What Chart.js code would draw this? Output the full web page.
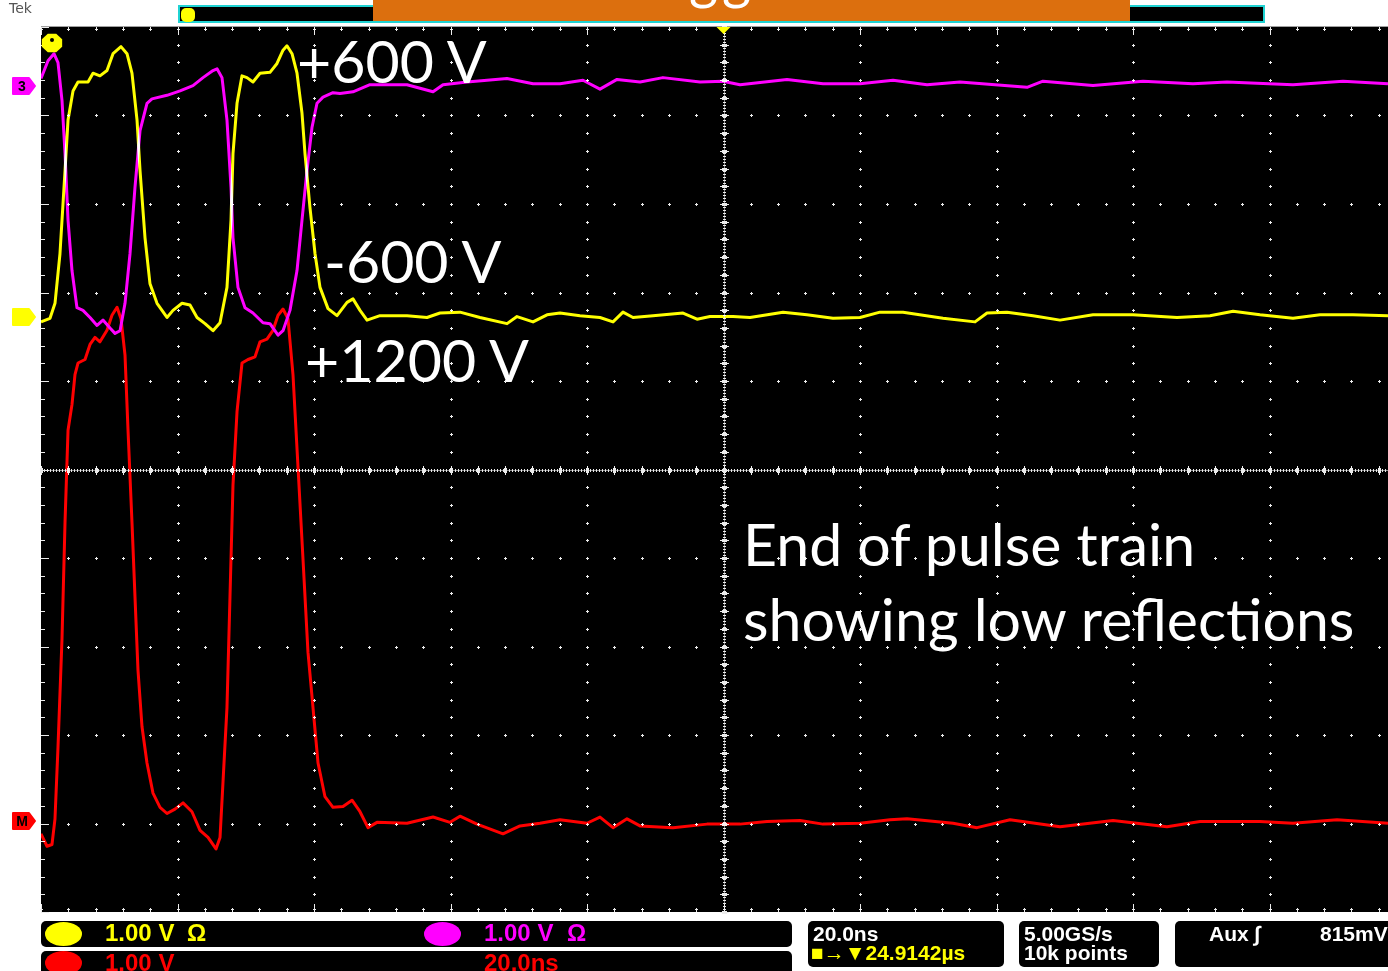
<!DOCTYPE html>
<html>
<head>
<meta charset="utf-8">
<script src="https://cdn.jsdelivr.net/npm/chart.js@4.4.1/dist/chart.umd.min.js"></script>
<style>
  html, body { margin: 0; padding: 0; background: #fff; }
  #wrap { position: relative; width: 1388px; height: 971px; overflow: hidden; }
  #scope { position: absolute; left: 0; top: 0; }
  .note { position: absolute; color: #fff; font-family: Lato, "Open Sans", sans-serif; font-size: 59px; line-height: 59px; white-space: nowrap; }
  .box { position: absolute; background: #000; border-radius: 5px; }
  .st { position: absolute; font-family: "Liberation Sans Narrow", "Liberation Sans", sans-serif; font-weight: bold; white-space: nowrap; }
  .row { font-size: 24px; line-height: 24px; }
  .small { font-size: 21px; line-height: 21px; }
  .dot { position: absolute; border-radius: 50%; }
  .tag { position: absolute; width: 20px; text-align: center; font: bold 14px/18px "Liberation Sans", sans-serif; color: #000; }
</style>
</head>
<body>
<div id="wrap">
  <canvas id="scope" width="1388" height="971"></canvas>

  <!-- cabecera -->
  <div class="st" style="left:9px;top:1px;font:14px/15px 'DejaVu Sans',sans-serif;color:#555;">Tek</div>
  <div style="position:absolute;left:178px;top:5px;width:1087px;height:18px;box-sizing:border-box;background:#000;border:2px solid #1fd3d3;"></div>
  <div style="position:absolute;left:181px;top:8px;width:14px;height:14px;background:#ffff00;border-radius:5px;"></div>
  <div style="position:absolute;left:373px;top:0;width:757px;height:21px;background:#dc6f0e;overflow:hidden;">
    <span style="position:absolute;left:316px;top:-49px;color:#fff;font:56px/52px Lato,sans-serif;letter-spacing:4px;">gg</span>
  </div>

  <!-- anotaciones -->
  <div class="note" style="left:297px;top:31px;">+600 V</div>
  <div class="note" style="left:324px;top:231px;">-600 V</div>
  <div class="note" style="left:305px;top:330px;">+1200 V</div>
  <div class="note" style="left:743px;top:514px;">End of pulse train</div>
  <div class="note" style="left:743px;top:589px;">showing low reflections</div>

  <!-- marcas de tierra (posición vertical puesta por el plugin) -->
  <div class="tag" id="tag3" style="left:12px;top:77px;">3</div>
  <div class="tag" id="tagM" style="left:12px;top:812px;">M</div>

  <!-- barra de estado -->
  <div class="box" style="left:41px;top:921px;width:751px;height:26px;"></div>
  <div class="box" style="left:41px;top:951px;width:751px;height:30px;"></div>
  <div class="dot" style="left:45px;top:922px;width:37px;height:24px;background:#ffff00;"></div>
  <div class="dot" style="left:424px;top:922px;width:37px;height:24px;background:#ff00ff;"></div>
  <div class="dot" style="left:45px;top:951px;width:37px;height:24px;background:#ff0000;"></div>
  <div class="st row" style="left:105px;top:921px;color:#ffff00;">1.00 V</div>
  <div class="st row" style="left:187px;top:921px;color:#ffff00;">Ω</div>
  <div class="st row" style="left:484px;top:921px;color:#ff00ff;">1.00 V</div>
  <div class="st row" style="left:567px;top:921px;color:#ff00ff;">Ω</div>
  <div class="st row" style="left:105px;top:951px;color:#ff0000;">1.00 V</div>
  <div class="st row" style="left:484px;top:951px;color:#ff0000;">20.0ns</div>

  <div class="box" style="left:808px;top:921px;width:196px;height:46px;"></div>
  <div class="st small" style="left:813px;top:923px;color:#fff;">20.0ns</div>
  <div class="st small" style="left:811px;top:942px;color:#ffff00;">■→▼24.9142µs</div>

  <div class="box" style="left:1019px;top:921px;width:140px;height:46px;"></div>
  <div class="st small" style="left:1024px;top:923px;color:#fff;">5.00GS/s</div>
  <div class="st small" style="left:1024px;top:942px;color:#fff;">10k points</div>

  <div class="box" style="left:1175px;top:921px;width:230px;height:46px;"></div>
  <div class="st small" style="left:1209px;top:923px;color:#fff;">Aux ∫</div>
  <div class="st small" style="left:1320px;top:923px;color:#fff;">815mV</div>
</div>

<script>
// Base de tiempo y escala
const NS_PER_DIV = 20;
const X_MAX_NS = 197.36;     // la captura corta la última división
const TRIGGER_NS = 100;

// Offsets de cada canal en divisiones (marcas a la izquierda)
const CH1_OFFSET = 1.718;
const CH3_OFFSET = 4.328;
const MATH_OFFSET = -3.977;

// CH1 (amarillo): tiempo en ns, tensión en V (1.00 V/div)
const ch1Time = [0, 1.32, 2.05, 2.78, 3.52, 3.96, 4.69, 5.42, 6.89, 7.62,
  8.64, 9.67, 10.55, 11.72, 12.60, 13.33, 14.07, 14.51, 15.24, 15.97,
  17.00, 18.46, 19.34, 20.66, 21.83, 22.86, 24.03, 25.20, 26.23, 27.25,
  27.84, 28.13, 28.72, 29.45, 30.18, 31.06, 32.09, 33.55, 34.58, 35.46,
  36.04, 36.78, 37.51, 38.24, 38.68, 39.41, 40.15, 40.88, 42.05, 43.37,
  44.84, 45.71, 46.74, 47.77,
  49.67, 53.63, 56.56, 58.46, 61.39, 64.32, 68.28, 69.74, 72.09, 74.14,
  76.04, 78.97, 81.90, 83.81, 85.27, 86.74, 89.67, 94.07, 96.12, 98.02,
  101.39, 103.88, 108.72, 112.23, 116.04, 120.00, 122.93, 126.30, 132.16, 136.85,
  138.61, 141.54, 145.35, 149.30, 154.14, 160.00, 166.45, 171.28, 174.65, 178.61,
  183.44, 187.40, 192.23, 197.36];
const ch1Volts = [-0.05, -0.01, 0.16, 0.72, 1.66, 2.23, 2.56, 2.66, 2.66, 2.76,
  2.73, 2.79, 2.98, 3.06, 2.98, 2.76, 2.23, 1.66, 0.90, 0.38,
  0.16, 0.00, 0.08, 0.16, 0.14, 0.00, -0.07, -0.15, -0.06, 0.34,
  1.10, 1.85, 2.42, 2.73, 2.71, 2.66, 2.76, 2.77, 2.87, 3.02,
  3.07, 2.98, 2.76, 2.31, 1.85, 1.24, 0.72, 0.34, 0.10, 0.02,
  0.17, 0.21, 0.08, -0.03,
  0.02, 0.02, 0.00, 0.05, 0.06, 0.00, -0.07, 0.01, -0.05, 0.03,
  0.05, 0.02, 0.00, -0.05, 0.06, 0.00, 0.02, 0.05, -0.02, 0.01,
  0.01, 0.00, 0.06, 0.03, -0.01, 0.00, 0.06, 0.06, -0.01, -0.05,
  0.05, 0.06, 0.02, -0.03, 0.03, 0.03, 0.00, 0.02, 0.07, 0.03,
  -0.01, 0.03, 0.03, 0.02];

// CH3 (magenta)
const ch3Time = [0, 1.03, 1.90, 2.49, 3.08, 3.52, 3.96, 4.54, 5.27, 6.15,
  7.18, 8.21, 9.08, 10.11, 10.84, 11.58, 12.31, 13.04, 13.77, 14.51,
  15.53, 16.26, 18.46, 20.37, 22.27, 23.74, 25.20, 25.79, 26.52, 27.25,
  27.84, 28.13, 28.86, 29.89, 31.06, 32.53, 33.55, 34.73, 35.46, 36.48,
  37.51, 38.24, 38.97, 39.71, 40.44, 41.32, 42.78, 43.81, 45.71, 48.20,
  53.63, 57.44, 58.90, 62.42, 68.28, 72.09, 76.04, 79.41, 81.90, 84.40,
  87.77, 91.13, 96.56, 99.93, 102.42, 109.30, 114.58, 120.00, 124.84, 129.82,
  134.65, 144.47, 146.81, 154.14, 161.47, 168.79, 173.77, 183.44, 190.77, 197.36];
const ch3Volts = [0.09, 0.29, 0.37, 0.27, -0.16, -0.76, -1.51, -2.08, -2.50, -2.53,
  -2.61, -2.70, -2.64, -2.73, -2.79, -2.76, -2.45, -1.89, -1.14, -0.50,
  -0.19, -0.14, -0.10, -0.05, 0.01, 0.10, 0.18, 0.20, 0.10, -0.38,
  -1.14, -1.71, -2.27, -2.50, -2.56, -2.67, -2.68, -2.81, -2.76, -2.53,
  -2.08, -1.51, -0.95, -0.46, -0.19, -0.12, -0.07, -0.08, -0.06, 0.02,
  0.02, -0.06, 0.02, 0.05, 0.09, 0.03, 0.03, 0.07, -0.03, 0.08,
  0.05, 0.10, 0.05, 0.06, 0.02, 0.08, 0.03, 0.03, 0.07, 0.02,
  0.05, -0.01, 0.06, 0.01, 0.06, 0.03, 0.05, 0.02, 0.06, 0.03];

// Math (rojo)
const mathTime = [0, 0.88, 1.61, 2.05, 2.49, 3.08, 3.52, 3.96, 4.54, 4.98,
  5.42, 6.45, 7.18, 7.91, 8.64, 9.67, 10.40, 11.14, 11.72, 12.31,
  12.75, 13.33, 13.77, 14.21, 14.80, 15.53, 16.41, 17.44, 18.46, 19.63,
  20.81, 22.12, 23.30, 24.47, 25.64, 26.23, 26.67, 27.25, 27.69, 28.13,
  28.72, 29.45, 30.33, 31.36, 32.09, 33.11, 33.99, 34.73, 35.46, 36.19,
  36.92, 37.66, 38.39, 39.12, 39.85, 40.59, 41.61, 42.78, 44.25, 45.57,
  46.74, 47.91, 49.23, 53.63, 57.44, 59.93, 61.39, 63.88, 67.69, 70.18,
  73.11, 76.04, 80.00, 81.90, 83.81, 85.86, 87.77, 92.60, 97.58, 102.42,
  106.37, 111.21, 114.58, 120.00, 124.40, 126.89, 133.63, 137.14, 141.98, 149.30,
  157.07, 164.98, 169.82, 178.61, 183.44, 189.89, 197.36];
const mathVolts = [-0.14, -0.28, -0.26, 0.03, 0.84, 2.07, 3.38, 4.42, 4.71, 5.05,
  5.18, 5.22, 5.39, 5.47, 5.42, 5.55, 5.72, 5.81, 5.68, 5.27,
  4.42, 3.38, 2.54, 1.71, 1.07, 0.66, 0.32, 0.16, 0.09, 0.14,
  0.21, 0.11, -0.10, -0.18, -0.31, -0.18, 0.45, 1.29, 2.54, 3.80,
  4.63, 5.18, 5.22, 5.25, 5.42, 5.45, 5.55, 5.72, 5.79, 5.68,
  5.05, 4.00, 2.96, 1.91, 1.29, 0.66, 0.28, 0.16, 0.17, 0.24,
  0.11, -0.07, -0.01, -0.02, 0.05, -0.01, 0.06, -0.03, -0.14, -0.05,
  -0.02, 0.02, -0.02, 0.05, -0.07, 0.03, -0.05, -0.07, -0.03, -0.03,
  0.00, 0.01, -0.03, -0.02, 0.02, 0.03, -0.02, -0.07, 0.02, -0.06,
  0.01, -0.06, 0.00, 0.00, -0.02, 0.02, -0.02];

const YELLOW = '#ffff00';
const MAGENTA = '#ff00ff';
const RED = '#ff0000';
const GRID = '#ececec';

function toPoints(times, volts, offset) {
    return times.map((t, i) => ({ x: t, y: volts[i] + offset }));
}

const canales = [
    { color: MAGENTA, offset: CH3_OFFSET, tag: document.getElementById('tag3') },
    { color: YELLOW, offset: CH1_OFFSET, tag: null },
    { color: RED, offset: MATH_OFFSET, tag: document.getElementById('tagM') }
];

// Retícula estilo osciloscopio: puntos cada 1/5 de división
const graticule = {
    id: 'graticule',
    beforeDraw(chart) {
        const { ctx, chartArea: a, scales: { x, y } } = chart;
        ctx.save();
        ctx.fillStyle = '#000';
        ctx.fillRect(a.left, a.top, a.right - a.left, a.bottom - a.top);
        ctx.fillStyle = '#a0a0a0';
        ctx.fillRect(a.left, a.top - 1, a.right - a.left, 1);

        ctx.fillStyle = GRID;
        const dot = (px, py) => {
            px = Math.round(px); py = Math.round(py);
            ctx.fillRect(px - 1, py, 3, 1);
            ctx.fillRect(px, py - 1, 1, 3);
        };
        const nDivX = Math.floor(x.max / NS_PER_DIV);
        const xMinor = [];
        for (let i = 0; i * NS_PER_DIV / 5 <= x.max; i++) xMinor.push(i * NS_PER_DIV / 5);
        const yMinor = [];
        for (let j = 0; j <= 50; j++) yMinor.push(y.min + j * 0.2);

        // lineas punteadas interiores
        for (let i = 1; i <= nDivX; i++) {
            if (i * NS_PER_DIV === TRIGGER_NS) continue;
            yMinor.slice(1, -1).forEach(v => dot(x.getPixelForValue(i * NS_PER_DIV), y.getPixelForValue(v)));
        }
        for (let j = 1; j < 10; j++) {
            if (j === 5) continue;
            xMinor.slice(1).forEach(t => dot(x.getPixelForValue(t), y.getPixelForValue(y.min + j)));
        }

        // ejes centrales
        const xc = Math.round(x.getPixelForValue(TRIGGER_NS));
        const yc = Math.round(y.getPixelForValue(0));
        ctx.fillStyle = '#8a8a8a';
        ctx.fillRect(a.left, yc, a.right - a.left, 1);
        ctx.fillRect(xc, a.top, 1, a.bottom - a.top);
        ctx.fillStyle = GRID;
        for (let px = a.left; px < a.right; px += 3) ctx.fillRect(px, yc - 1, 1, 3);
        for (let py = a.top; py < a.bottom; py += 3) ctx.fillRect(xc - 1, py, 3, 1);
        xMinor.forEach(t => {
            const px = Math.round(x.getPixelForValue(t));
            ctx.fillRect(px, yc - 4, 1, 9);
            ctx.fillRect(px - 1, yc - 2, 3, 5);
        });
        yMinor.forEach(v => {
            const py = Math.round(y.getPixelForValue(v));
            ctx.fillRect(xc - 4, py, 9, 1);
            ctx.fillRect(xc - 2, py - 1, 5, 3);
        });

        // marcas en los bordes
        yMinor.forEach((v, j) => {
            const py = Math.round(y.getPixelForValue(v));
            ctx.fillRect(a.left, py, j % 5 === 0 ? 8 : 4, 1);
        });
        xMinor.forEach((t, i) => {
            const px = Math.round(x.getPixelForValue(t));
            const len = i % 5 === 0 ? 8 : 4;
            ctx.fillRect(px, a.top, 1, len);
            ctx.fillRect(px, a.bottom - len, 1, len);
            ctx.fillRect(px - 1, a.top + 2, 3, 1);
            ctx.fillRect(px - 1, a.bottom - 3, 3, 1);
        });
        ctx.restore();
    },
    beforeDatasetsDraw(chart) {
        chart.ctx.save();
        chart.ctx.globalCompositeOperation = 'lighter';
    },
    afterDatasetsDraw(chart) {
        chart.ctx.restore();
    },
    afterDraw(chart) {
        const { ctx, chartArea: a, scales: { x, y } } = chart;
        ctx.save();
        // marcas de referencia de cada canal
        canales.forEach(ch => {
            const py = Math.round(y.getPixelForValue(ch.offset));
            ctx.fillStyle = ch.color;
            ctx.strokeStyle = ch.color;
            ctx.lineJoin = 'round';
            ctx.lineWidth = 2;
            ctx.beginPath();
            ctx.moveTo(13, py - 8);
            ctx.lineTo(29, py - 8);
            ctx.lineTo(35, py);
            ctx.lineTo(29, py + 8);
            ctx.lineTo(13, py + 8);
            ctx.closePath();
            ctx.fill();
            ctx.stroke();
            if (ch.tag) ch.tag.style.top = (py - 9) + 'px';
        });
        // posición del disparo
        const tx = x.getPixelForValue(TRIGGER_NS);
        ctx.fillStyle = YELLOW;
        ctx.beginPath();
        ctx.moveTo(tx - 7, a.top);
        ctx.lineTo(tx + 7, a.top);
        ctx.lineTo(tx, a.top + 7);
        ctx.closePath();
        ctx.fill();
        // indicador de canal 1 arriba a la izquierda
        const cx = a.left + 11, cy = a.top + 16;
        ctx.beginPath();
        for (let k = 0; k < 8; k++) {
            const ang = Math.PI / 8 + k * Math.PI / 4;
            ctx.lineTo(cx + 11 * Math.cos(ang), cy + 10 * Math.sin(ang));
        }
        ctx.closePath();
        ctx.fill();
        ctx.fillStyle = '#000';
        ctx.beginPath();
        ctx.arc(cx, cy - 3, 2, 0, Math.PI * 2);
        ctx.fill();
        ctx.restore();
    }
};

new Chart(document.getElementById('scope').getContext('2d'), {
    type: 'line',
    data: {
        datasets: [
            { label: 'CH1', data: toPoints(ch1Time, ch1Volts, CH1_OFFSET), borderColor: YELLOW },
            { label: 'CH3', data: toPoints(ch3Time, ch3Volts, CH3_OFFSET), borderColor: MAGENTA },
            { label: 'Math', data: toPoints(mathTime, mathVolts, MATH_OFFSET), borderColor: RED }
        ]
    },
    options: {
        responsive: false,
        animation: false,
        events: [],
        layout: { padding: { left: 41, top: 27, right: 0, bottom: 59 } },
        elements: {
            point: { radius: 0 },
            line: { borderWidth: 3, tension: 0, fill: false, borderJoinStyle: 'round' }
        },
        scales: {
            x: { type: 'linear', min: 0, max: X_MAX_NS, display: false },
            y: { type: 'linear', min: -5, max: 5, display: false }
        },
        plugins: { legend: { display: false }, tooltip: { enabled: false } }
    },
    plugins: [graticule]
});
</script>
</body>
</html>
